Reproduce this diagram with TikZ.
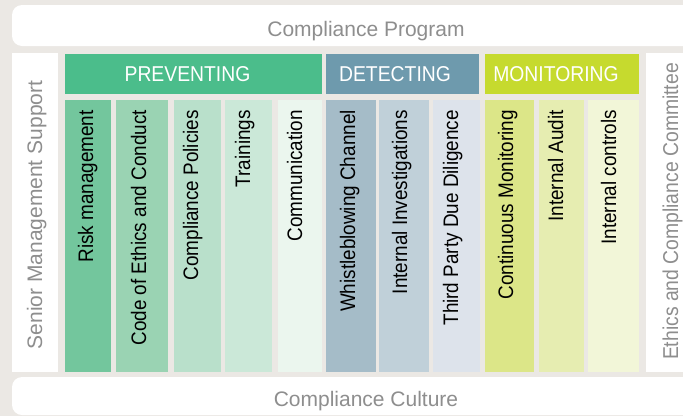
\documentclass[tikz,border=0pt]{standalone}
\usepackage{fontspec}
\setmainfont{Liberation Sans}
\newfontfamily\narrowsans[FakeStretch=0.9]{Liberation Sans}
\usepackage{xcolor}

\definecolor{bggray}{HTML}{EBE8E4}
\definecolor{labelgray}{HTML}{8E8E8E}
\definecolor{prevgreen}{HTML}{4BBD8B}
\definecolor{detblue}{HTML}{6E9AAD}
\definecolor{monlime}{HTML}{C6DA2E}
\definecolor{prevA}{HTML}{73C69D}
\definecolor{prevB}{HTML}{9AD3B3}
\definecolor{prevC}{HTML}{B9E0CB}
\definecolor{prevD}{HTML}{CBE8D8}
\definecolor{prevE}{HTML}{EBF6EE}
\definecolor{detA}{HTML}{A5BCC8}
\definecolor{detB}{HTML}{C0D0D9}
\definecolor{detC}{HTML}{DDE3EB}
\definecolor{monA}{HTML}{DCE688}
\definecolor{monB}{HTML}{E6EDB1}
\definecolor{monC}{HTML}{F2F6D8}

\begin{document}
\begin{tikzpicture}[x=1pt,y=-1pt,
		collabel/.style={rotate=90, anchor=base east, inner sep=0pt, text=black, font=\narrowsans\fontsize{21}{25}\selectfont},
		headlabel/.style={anchor=base, inner sep=0pt, text=white, font=\narrowsans\fontsize{21.5}{25}\selectfont},
		sidelabel/.style={anchor=base, inner sep=0pt, text=labelgray, font=\fontsize{21}{25}\selectfont}]
		\useasboundingbox (0,0) rectangle (683,416);
		\clip (0,0) rectangle (683,416);
		\fill[bggray] (0,0) rectangle (683,416);
		
		% program / culture bands
		\fill[white, rounded corners=10pt] (12,5) rectangle (720,46);
		\fill[white, rounded corners=10pt] (12,377) rectangle (720,415);
		\node[sidelabel] (program) at (366,36) {Compliance Program};
		\node[sidelabel] (culture) at (366,406) {Compliance Culture};
		
		% side pillars
		\fill[white] (12,53) rectangle (58,372);
		\fill[white] (646,53) rectangle (720,372);
		\node[sidelabel, rotate=90] (senior) at (42,215) {Senior Management Support};
		\node[sidelabel, rotate=90, font=\narrowsans\fontsize{21.5}{25}\selectfont] (committee) at (678,211.5) {Ethics and Compliance Committee};
		
		% headers
		\fill[prevgreen] (65,54) rectangle (322,94);
		\fill[detblue] (326,54) rectangle (479,94);
		\fill[monlime] (485,54) rectangle (639,94);
		\node[headlabel] (preventing) at (187.5,81) {PREVENTING};
		\node[headlabel] (detecting) at (395,81) {DETECTING};
		\node[headlabel] (monitoring) at (556,81) {MONITORING};
		
		% preventing columns
		\fill[prevA] (65,100) rectangle (111,372);
		\fill[prevB] (116,100) rectangle (168,372);
		\fill[prevC] (174,100) rectangle (221,372);
		\fill[prevD] (225,100) rectangle (272,372);
		\fill[prevE] (278,100) rectangle (322,372);
		\node[collabel] (risk) at (93,110) {Risk management};
		\node[collabel] (code) at (146,110) {Code of Ethics and Conduct};
		\node[collabel] (policies) at (198,110) {Compliance Policies};
		\node[collabel] (trainings) at (250,110) {Trainings};
		\node[collabel] (communication) at (302,110) {Communication};
		
		% detecting columns
		\fill[detA] (326,100) rectangle (376,372);
		\fill[detB] (379,100) rectangle (429,372);
		\fill[detC] (433,100) rectangle (480,372);
		\node[collabel] (whistle) at (355,110) {Whistleblowing Channel};
		\node[collabel] (investigations) at (407,110) {Internal Investigations};
		\node[collabel] (diligence) at (458,110) {Third Party Due Diligence};
		
		% monitoring columns
		\fill[monA] (485,100) rectangle (534,372);
		\fill[monB] (539,100) rectangle (584,372);
		\fill[monC] (588,100) rectangle (639,372);
		\node[collabel] (continuous) at (513,110) {Continuous Monitoring};
		\node[collabel] (audit) at (563,110) {Internal Audit};
		\node[collabel] (controls) at (616,110) {Internal controls};
	\end{tikzpicture}
\end{document}
